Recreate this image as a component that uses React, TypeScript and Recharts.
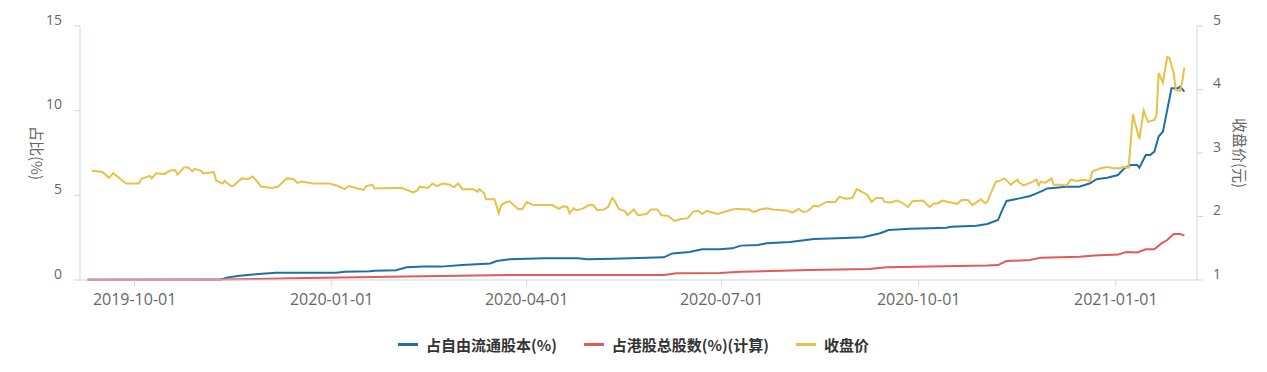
import React from 'react';
import { LineChart, Line, XAxis, YAxis, Legend } from 'recharts';

const priceDates = ["2019-09-11","2019-09-16","2019-09-19","2019-09-21","2019-09-23","2019-09-27","2019-10-03","2019-10-04","2019-10-08","2019-10-09","2019-10-11","2019-10-15","2019-10-18","2019-10-20","2019-10-21","2019-10-24","2019-10-26","2019-10-28","2019-10-29","2019-11-01","2019-11-02","2019-11-07","2019-11-08","2019-11-11","2019-11-12","2019-11-15","2019-11-16","2019-11-20","2019-11-23","2019-11-25","2019-11-27","2019-11-29","2019-12-04","2019-12-07","2019-12-11","2019-12-14","2019-12-16","2019-12-18","2019-12-23","2019-12-31","2020-01-04","2020-01-07","2020-01-09","2020-01-13","2020-01-16","2020-01-17","2020-01-20","2020-01-21","2020-01-28","2020-02-03","2020-02-04","2020-02-08","2020-02-10","2020-02-11","2020-02-15","2020-02-17","2020-02-19","2020-02-22","2020-02-25","2020-02-27","2020-02-29","2020-03-02","2020-03-07","2020-03-09","2020-03-10","2020-03-12","2020-03-13","2020-03-17","2020-03-19","2020-03-20","2020-03-22","2020-03-24","2020-03-28","2020-03-30","2020-04-01","2020-04-04","2020-04-13","2020-04-16","2020-04-18","2020-04-20","2020-04-21","2020-04-23","2020-04-24","2020-04-27","2020-04-30","2020-05-02","2020-05-04","2020-05-07","2020-05-09","2020-05-11","2020-05-12","2020-05-14","2020-05-17","2020-05-18","2020-05-21","2020-05-23","2020-05-27","2020-05-29","2020-06-01","2020-06-03","2020-06-06","2020-06-09","2020-06-12","2020-06-15","2020-06-18","2020-06-20","2020-06-22","2020-06-24","2020-06-27","2020-06-29","2020-07-04","2020-07-06","2020-07-08","2020-07-14","2020-07-16","2020-07-19","2020-07-22","2020-07-25","2020-08-01","2020-08-03","2020-08-06","2020-08-08","2020-08-10","2020-08-13","2020-08-15","2020-08-19","2020-08-23","2020-08-25","2020-08-28","2020-08-31","2020-09-02","2020-09-05","2020-09-07","2020-09-09","2020-09-11","2020-09-14","2020-09-15","2020-09-18","2020-09-21","2020-09-23","2020-09-26","2020-09-28","2020-10-03","2020-10-06","2020-10-08","2020-10-10","2020-10-12","2020-10-16","2020-10-19","2020-10-21","2020-10-24","2020-10-26","2020-10-30","2020-11-01","2020-11-02","2020-11-04","2020-11-06","2020-11-07","2020-11-10","2020-11-13","2020-11-16","2020-11-17","2020-11-19","2020-11-22","2020-11-25","2020-11-26","2020-11-27","2020-11-29","2020-12-02","2020-12-03","2020-12-06","2020-12-09","2020-12-11","2020-12-14","2020-12-17","2020-12-20","2020-12-21","2020-12-25","2020-12-28","2020-12-31","2021-01-03","2021-01-04","2021-01-07","2021-01-09","2021-01-10","2021-01-12","2021-01-14","2021-01-16","2021-01-19","2021-01-20","2021-01-21","2021-01-23","2021-01-25","2021-01-26","2021-01-28","2021-01-29","2021-01-31","2021-02-01","2021-02-02"];
const priceValues = [2.72,2.70,2.61,2.68,2.63,2.52,2.52,2.59,2.64,2.60,2.68,2.67,2.73,2.73,2.66,2.77,2.77,2.71,2.75,2.72,2.68,2.70,2.57,2.52,2.56,2.48,2.48,2.60,2.59,2.63,2.56,2.47,2.45,2.47,2.60,2.59,2.53,2.55,2.52,2.52,2.48,2.43,2.48,2.44,2.42,2.48,2.50,2.44,2.45,2.45,2.43,2.38,2.41,2.47,2.45,2.52,2.48,2.52,2.50,2.46,2.52,2.43,2.43,2.39,2.43,2.37,2.27,2.27,2.05,2.17,2.22,2.24,2.12,2.12,2.23,2.18,2.18,2.12,2.16,2.15,2.05,2.13,2.10,2.12,2.18,2.18,2.10,2.11,2.15,2.29,2.25,2.12,2.08,2.02,2.11,2.02,2.04,2.11,2.11,2.02,2.01,1.93,1.96,1.97,2.08,2.09,2.04,2.09,2.06,2.04,2.09,2.11,2.12,2.11,2.07,2.11,2.13,2.11,2.09,2.06,2.12,2.07,2.08,2.17,2.16,2.23,2.23,2.31,2.28,2.29,2.43,2.38,2.34,2.23,2.29,2.29,2.23,2.22,2.25,2.22,2.15,2.24,2.25,2.15,2.20,2.21,2.25,2.22,2.20,2.26,2.26,2.18,2.27,2.21,2.23,2.39,2.55,2.55,2.60,2.50,2.58,2.53,2.49,2.53,2.58,2.49,2.55,2.53,2.60,2.50,2.50,2.49,2.58,2.56,2.58,2.56,2.71,2.76,2.78,2.76,2.76,2.78,2.77,3.61,3.47,3.22,3.67,3.49,3.52,3.60,4.26,4.11,4.51,4.50,4.26,3.99,3.98,4.12,4.35];

const floatDates = ["2019-09-09","2019-11-10","2019-11-11","2019-11-13","2019-11-19","2019-11-28","2019-12-06","2019-12-17","2020-01-03","2020-01-07","2020-01-19","2020-01-21","2020-01-31","2020-02-05","2020-02-13","2020-02-21","2020-03-02","2020-03-15","2020-03-18","2020-03-24","2020-04-09","2020-04-25","2020-04-29","2020-05-11","2020-06-04","2020-06-08","2020-06-16","2020-06-22","2020-06-30","2020-07-06","2020-07-10","2020-07-18","2020-07-22","2020-08-02","2020-08-13","2020-08-24","2020-09-05","2020-09-13","2020-09-17","2020-09-27","2020-10-06","2020-10-14","2020-10-16","2020-10-28","2020-11-02","2020-11-07","2020-11-09","2020-11-11","2020-11-17","2020-11-22","2020-11-25","2020-11-28","2020-11-30","2020-12-09","2020-12-15","2020-12-20","2020-12-23","2020-12-28","2021-01-02","2021-01-05","2021-01-08","2021-01-11","2021-01-12","2021-01-15","2021-01-17","2021-01-19","2021-01-21","2021-01-23","2021-01-25","2021-01-27","2021-01-30","2021-01-31","2021-02-02"];
const floatValues = [0.02,0.02,0.05,0.14,0.25,0.35,0.43,0.43,0.43,0.49,0.52,0.55,0.58,0.75,0.79,0.79,0.89,0.98,1.12,1.22,1.28,1.28,1.22,1.25,1.34,1.57,1.65,1.81,1.81,1.87,2.03,2.07,2.17,2.24,2.42,2.46,2.52,2.76,2.95,3.03,3.06,3.09,3.15,3.21,3.31,3.54,4.13,4.67,4.82,4.96,5.12,5.28,5.41,5.51,5.51,5.71,5.95,6.04,6.20,6.60,6.79,6.79,6.63,7.38,7.38,7.58,8.47,8.76,10.04,11.32,11.32,11.42,11.12];

const hkDates = ["2019-09-09","2019-11-10","2019-11-28","2019-12-13","2020-02-05","2020-03-24","2020-06-04","2020-06-10","2020-06-30","2020-07-10","2020-08-11","2020-09-08","2020-09-16","2020-10-06","2020-11-02","2020-11-07","2020-11-11","2020-11-22","2020-11-27","2020-12-15","2020-12-22","2021-01-02","2021-01-06","2021-01-11","2021-01-15","2021-01-19","2021-01-22","2021-01-25","2021-01-28","2021-01-31","2021-02-02"];
const hkValues = [0.02,0.03,0.06,0.10,0.20,0.30,0.30,0.40,0.42,0.49,0.59,0.65,0.75,0.79,0.85,0.88,1.12,1.18,1.32,1.38,1.45,1.50,1.65,1.63,1.81,1.81,2.13,2.36,2.72,2.72,2.62];

const xTickLabels = ["2019-10-01","2020-01-01","2020-04-01","2020-07-01","2020-10-01","2021-01-01"];
const xDomainDates = ["2019-09-05T12:00:00Z", "2021-02-07T21:36:00Z"];
const leftTicks = [0, 5, 10, 15];
const rightTicks = [1, 2, 3, 4, 5];

const seriesNames = ["占自由流通股本(%)", "占港股总股数(%)(计算)", "收盘价"];
const seriesColors = ["#1f6fa5", "#e35a5a", "#e8c148"];
const leftTitle = "占比(%)";
const rightTitle = "收盘价(元)";

const toData = (dates: string[], values: number[]) =>
  dates.map((d, i) => ({ t: Date.parse(d), v: values[i] }));

const floatData = toData(floatDates, floatValues);
const hkData = toData(hkDates, hkValues);
const priceData = toData(priceDates, priceValues);

const AXIS_COLOR = "#ccd5ec";
const TEXT_COLOR = "#666";
const FONT = '"Open Sans", "Noto Sans CJK SC", sans-serif';
const CJK_FONT = '"Noto Sans CJK SC", "Noto Sans", sans-serif';

const fmtDate = (t: number) => new Date(t).toISOString().slice(0, 10);

const LeftTick = (props: any) => {
  const { x, y, payload } = props;
  return (
    <text x={x} y={y - 7} textAnchor="end" dominantBaseline="central" fill={TEXT_COLOR} fontSize={14} fontFamily={FONT}>
      {payload.value}
    </text>
  );
};

const RightTick = (props: any) => {
  const { x, y, payload } = props;
  return (
    <text x={x} y={y - 7} textAnchor="start" dominantBaseline="central" fill={TEXT_COLOR} fontSize={14} fontFamily={FONT}>
      {payload.value}
    </text>
  );
};

const BottomTick = (props: any) => {
  const { x, y, payload } = props;
  return (
    <text x={x} y={y + 5} textAnchor="middle" dominantBaseline="central" fill={TEXT_COLOR} fontSize={16} fontFamily={FONT}>
      {fmtDate(payload.value)}
    </text>
  );
};

const AxisTitle = (text: string, offsetX: number) => (props: any) => {
  const vb = props.viewBox || {};
  const cx = vb.x + offsetX;
  const cy = vb.y + vb.height / 2;
  return (
    <text
      x={cx}
      y={cy}
      textAnchor="middle"
      dominantBaseline="central"
      fill={TEXT_COLOR}
      fontSize={15}
      fontFamily={CJK_FONT}
      transform={`rotate(90, ${cx}, ${cy})`}
    >
      {text}
    </text>
  );
};

const LegendContent = () => (
  <div
    style={{
      display: 'flex',
      justifyContent: 'center',
      alignItems: 'center',
      height: 40,
      fontFamily: CJK_FONT,
      fontSize: 15,
      fontWeight: 'bold',
      color: '#333',
    }}
  >
    {seriesNames.map((name, i) => (
      <div key={name} style={{ display: 'flex', alignItems: 'center', marginLeft: i === 0 ? 0 : 27 }}>
        <span style={{ display: 'inline-block', width: 20, height: 3, background: seriesColors[i], marginRight: 8 }} />
        <span>{name}</span>
      </div>
    ))}
  </div>
);

export default function App() {
  return (
    <LineChart width={1251} height={356} margin={{ top: 18, right: 0, bottom: 0, left: 0 }}>
      <XAxis
        dataKey="t"
        type="number"
        domain={xDomainDates.map((d) => Date.parse(d))}
        ticks={xTickLabels.map((d) => Date.parse(d))}
        tick={<BottomTick />}
        tickSize={6}
        tickMargin={8}
        height={44}
        axisLine={{ stroke: AXIS_COLOR }}
        tickLine={{ stroke: AXIS_COLOR }}
        allowDataOverflow
      />
      <YAxis
        yAxisId="left"
        orientation="left"
        domain={[0, 15]}
        ticks={leftTicks}
        width={72}
        tick={<LeftTick />}
        tickSize={6}
        tickMargin={12}
        axisLine={{ stroke: AXIS_COLOR }}
        tickLine={{ stroke: AXIS_COLOR }}
        label={AxisTitle(leftTitle, 29)}
      />
      <YAxis
        yAxisId="right"
        orientation="right"
        domain={[1, 5]}
        ticks={rightTicks}
        width={62}
        tick={<RightTick />}
        tickSize={6}
        tickMargin={10}
        axisLine={{ stroke: AXIS_COLOR }}
        tickLine={{ stroke: AXIS_COLOR }}
        label={AxisTitle(rightTitle, 43)}
      />
      <Legend verticalAlign="bottom" content={<LegendContent />} />
      <Line yAxisId="left" data={floatData} dataKey="v" name={seriesNames[0]} stroke={seriesColors[0]} strokeWidth={2} dot={false} isAnimationActive={false} />
      <Line yAxisId="left" data={hkData} dataKey="v" name={seriesNames[1]} stroke={seriesColors[1]} strokeWidth={2} dot={false} isAnimationActive={false} />
      <Line yAxisId="right" data={priceData} dataKey="v" name={seriesNames[2]} stroke={seriesColors[2]} strokeWidth={2} dot={false} isAnimationActive={false} />
    </LineChart>
  );
}
